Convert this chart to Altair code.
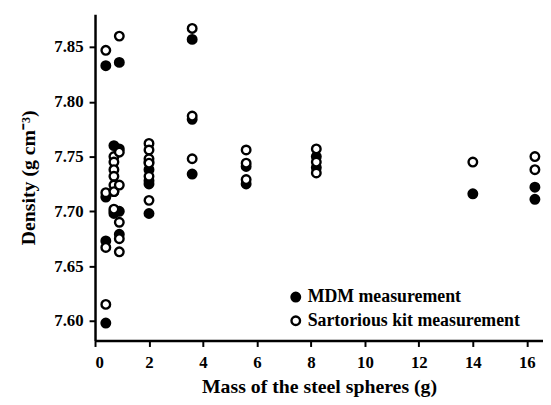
import altair as alt
import pandas as pd

# MDM measurement (filled)
mdm_x = [0.4, 0.4, 0.4, 0.4, 0.9,
         0.7, 0.7, 0.7, 0.7,
         0.9, 0.9, 0.9,
         2.0, 2.0, 2.0, 2.0, 2.0,
         3.6, 3.6, 3.6,
         5.6, 5.6,
         8.2, 8.2,
         14.0,
         16.3, 16.3]
mdm_y = [7.833, 7.598, 7.673, 7.713, 7.836,
         7.760, 7.718, 7.700, 7.698,
         7.757, 7.700, 7.679,
         7.745, 7.738, 7.728, 7.725, 7.698,
         7.857, 7.784, 7.734,
         7.741, 7.725,
         7.750, 7.740,
         7.716,
         7.722, 7.711]

# Sartorious kit measurement (open)
sart_x = [0.4, 0.4, 0.4, 0.4, 0.9,
          0.7, 0.7, 0.7, 0.7, 0.7, 0.7, 0.7,
          0.9, 0.9, 0.9, 0.9, 0.9,
          2.0, 2.0, 2.0, 2.0, 2.0, 2.0,
          3.6, 3.6, 3.6,
          5.6, 5.6, 5.6,
          8.2, 8.2, 8.2,
          14.0,
          16.3, 16.3]
sart_y = [7.847, 7.615, 7.667, 7.717, 7.860,
          7.750, 7.745, 7.738, 7.732, 7.724, 7.718, 7.702,
          7.754, 7.724, 7.690, 7.675, 7.663,
          7.762, 7.756, 7.748, 7.744, 7.732, 7.710,
          7.867, 7.787, 7.748,
          7.756, 7.744, 7.729,
          7.757, 7.745, 7.735,
          7.745,
          7.750, 7.738]

series_names = ["MDM measurement", "Sartorious kit measurement"]

df = pd.concat([
    pd.DataFrame({"mass": mdm_x, "density": mdm_y, "series": series_names[0]}),
    pd.DataFrame({"mass": sart_x, "density": sart_y, "series": series_names[1]}),
], ignore_index=True)

font = "Liberation Serif"

chart = alt.Chart(df).mark_point(
    shape="circle", filled=True, stroke="black", strokeWidth=2.4, size=75, opacity=1
).encode(
    x=alt.X("mass:Q", title="Mass of the steel spheres (g)",
            scale=alt.Scale(domain=[0, 16.6], nice=False, zero=False),
            axis=alt.Axis(values=[0, 2, 4, 6, 8, 10, 12, 14, 16], format="d",
                          labelPadding=8, titlePadding=7)),
    y=alt.Y("density:Q", title="Density (g cm⁻³)",
            scale=alt.Scale(domain=[7.582, 7.88], nice=False, zero=False),
            axis=alt.Axis(values=[7.60, 7.65, 7.70, 7.75, 7.80, 7.85], format=".2f",
                          labelPadding=6, titlePadding=15)),
    fill=alt.Fill("series:N",
                  scale=alt.Scale(domain=series_names, range=["black", "white"]),
                  legend=alt.Legend(title=None, orient="none", legendX=194, legendY=277,
                                    labelFont=font, labelFontSize=18, labelFontWeight="bold",
                                    labelColor="black", labelLimit=0,
                                    symbolType="circle", symbolSize=75, symbolStrokeWidth=2.4,
                                    symbolStrokeColor="black", rowPadding=4, labelOffset=3,
                                    padding=0)),
    order=alt.Order("series:N"),
).properties(
    width=453, height=330,
    autosize=alt.AutoSizeParams(type="none"),
    padding={"left": 88, "top": 4, "right": 0, "bottom": 70},
).configure_view(
    stroke=None
).configure_axis(
    grid=False, domainColor="black", domainWidth=2.5, tickColor="black", tickWidth=2,
    tickSize=6, labelFont=font, labelFontSize=17, labelFontWeight="bold",
    labelColor="black", titleFont=font, titleFontSize=20, titleFontWeight="bold",
    titleColor="black"
)

chart.save("out.html", embed_options={"renderer": "svg", "actions": False})
